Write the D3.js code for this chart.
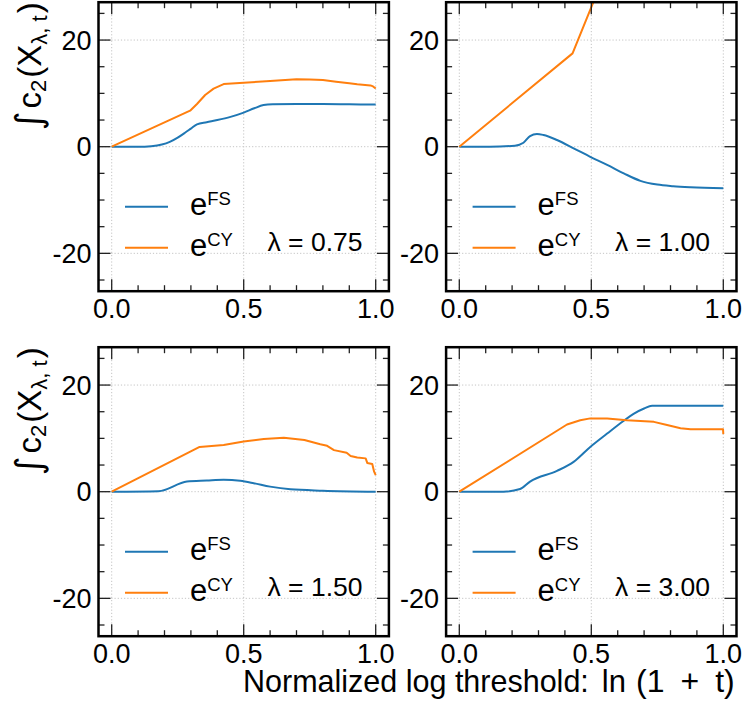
<!DOCTYPE html>
<html><head><meta charset="utf-8">
<script src="https://cdn.jsdelivr.net/npm/d3@7"></script>
<style>body{margin:0;background:#fff} text{font-family:"Liberation Sans",Arial,Helvetica,sans-serif;fill:#000}</style>
</head><body><svg id="c" width="743" height="711"></svg>
<script>
// ---------- data ----------
const lambdaLabels = ["0.75", "1.00", "1.50", "3.00"];
const seriesNames = ["FS", "CY"];
const seriesColors = ["#1f77b4", "#ff7f0e"];
const xMajorTicks = [0, 0.5, 1.0];
const xTickLabels = ["0.0", "0.5", "1.0"];
const yMajorTicks = [-20, 0, 20];
const yTickLabels = ["-20", "0", "20"];
const xLabel = "Normalized log threshold:";

const fs075 = [[0,0],[0.10,0],[0.15,0.1],[0.19,0.4],[0.22,0.9],[0.25,1.7],[0.28,2.7],[0.30,3.4],[0.323,4.2],[0.36,4.6],[0.40,5.0],[0.45,5.6],[0.50,6.4],[0.54,7.2],[0.575,7.8],[0.61,7.95],[0.70,8.0],[0.80,8.0],[0.90,7.95],[1.0,7.9]];
const cy075 = [[0,0],[0.297,6.75],[0.323,8.0],[0.354,9.7],[0.386,10.9],[0.424,11.75],[0.50,12.0],[0.60,12.3],[0.70,12.65],[0.75,12.6],[0.80,12.5],[0.85,12.2],[0.90,11.9],[0.93,11.7],[0.98,11.5],[0.99,11.3],[1.0,10.9]];
const fs100 = [[0,0],[0.116,0],[0.211,0.2],[0.243,0.75],[0.268,2.0],[0.294,2.4],[0.319,2.2],[0.37,1.25],[0.433,-0.3],[0.496,-1.9],[0.56,-3.4],[0.623,-5.0],[0.686,-6.4],[0.75,-7.1],[0.81,-7.4],[0.876,-7.6],[1.0,-7.8]];
const cy100 = [[0,0],[0.429,17.5],[0.511,27.5],[0.56,33.5]];
const fs150 = [[0,0],[0.177,0.1],[0.285,1.9],[0.36,2.1],[0.424,2.25],[0.487,2.05],[0.538,1.6],[0.60,0.95],[0.677,0.45],[0.80,0.2],[1.0,0]];
const cy150 = [[0,0],[0.333,8.4],[0.424,8.75],[0.50,9.4],[0.576,9.9],[0.652,10.1],[0.73,9.7],[0.79,8.9],[0.816,8.6],[0.842,7.8],[0.89,7.3],[0.905,6.7],[0.93,6.4],[0.962,6.25],[0.968,5.4],[0.987,5.2],[0.994,3.75],[1.0,3.1]];
const fs300 = [[0,0],[0.167,0],[0.23,0.5],[0.268,1.9],[0.37,3.9],[0.433,5.6],[0.496,8.4],[0.56,10.9],[0.623,13.3],[0.66,14.6],[0.70,15.6],[0.73,16.1],[0.81,16.1],[1.0,16.1]];
const cy300 = [[0,0],[0.408,12.6],[0.458,13.4],[0.496,13.75],[0.56,13.75],[0.635,13.4],[0.737,13.1],[0.787,12.5],[0.838,11.9],[0.876,11.7],[0.999,11.7],[1.0,10.8]];

const panelSeries = [[fs075, cy075], [fs100, cy100], [fs150, cy150], [fs300, cy300]];

// ---------- layout ----------
const svg = d3.select("#c");
const W = 290.4, H = 289;
const origins = [[98.5, 2.2], [446.1, 2.2], [98.5, 347.2], [446.1, 347.2]];
const FONT = 27;

panelSeries.forEach((series, i) => {
  const [ox, oy] = origins[i];
  const x = d3.scaleLinear().domain([-0.05, 1.05]).range([0, W]);
  const y = d3.scaleLinear().domain([-27.1, 27.1]).range([H, 0]);
  const g = svg.append("g").attr("transform", `translate(${ox},${oy})`);

  g.append("clipPath").attr("id", "clip" + i)
    .append("rect").attr("width", W).attr("height", H);

  // grid
  const grid = g.append("g").attr("stroke", "#c4c4c4").attr("stroke-width", 1).attr("stroke-dasharray", "1.2,2");
  xMajorTicks.forEach(t => grid.append("line").attr("x1", x(t)).attr("x2", x(t)).attr("y1", 0).attr("y2", H));
  yMajorTicks.forEach(t => grid.append("line").attr("y1", y(t)).attr("y2", y(t)).attr("x1", 0).attr("x2", W));

  // lines
  const lines = g.append("g").attr("clip-path", `url(#clip${i})`);
  series.forEach((d, k) => {
    const gen = d3.line().x(p => x(p[0])).y(p => y(p[1]))
      .curve(k === 0 ? d3.curveMonotoneX : d3.curveLinear);
    lines.append("path").attr("d", gen(d)).attr("fill", "none")
      .attr("stroke", seriesColors[k]).attr("stroke-width", 2)
      .attr("stroke-linejoin", "round");
  });

  // ticks (inward, all four sides)
  const ticks = g.append("g").attr("stroke", "#222").attr("stroke-width", 1.3);
  const xMinor = d3.range(0, 11).map(v => v / 10).filter(v => !xMajorTicks.some(m => Math.abs(m - v) < 1e-9));
  const yMinor = d3.range(-25, 26, 5).filter(v => !yMajorTicks.includes(v));
  const tick = (isX, v, len) => {
    if (isX) {
      ticks.append("line").attr("x1", x(v)).attr("x2", x(v)).attr("y1", H).attr("y2", H - len);
      ticks.append("line").attr("x1", x(v)).attr("x2", x(v)).attr("y1", 0).attr("y2", len);
    } else {
      ticks.append("line").attr("y1", y(v)).attr("y2", y(v)).attr("x1", 0).attr("x2", len);
      ticks.append("line").attr("y1", y(v)).attr("y2", y(v)).attr("x1", W).attr("x2", W - len);
    }
  };
  xMajorTicks.forEach(v => tick(true, v, 12));
  xMinor.forEach(v => tick(true, v, 6));
  yMajorTicks.forEach(v => tick(false, v, 12));
  yMinor.forEach(v => tick(false, v, 6));

  // frame
  g.append("rect").attr("width", W).attr("height", H).attr("fill", "none")
    .attr("stroke", "#000").attr("stroke-width", 2.5);

  // tick labels
  xMajorTicks.forEach((v, j) => g.append("text").attr("x", x(v)).attr("y", H + 27)
    .attr("text-anchor", "middle").attr("font-size", FONT).text(xTickLabels[j]));
  yMajorTicks.forEach((v, j) => g.append("text").attr("x", -7).attr("y", y(v))
    .attr("dy", "0.36em").attr("text-anchor", "end").attr("font-size", FONT).text(yTickLabels[j]));

  // legend
  seriesNames.forEach((nm, k) => {
    const ly = 204.5 + k * 41;
    g.append("line").attr("x1", 26.5).attr("x2", 69.5).attr("y1", ly).attr("y2", ly)
      .attr("stroke", seriesColors[k]).attr("stroke-width", 2);
    const t = g.append("text").attr("x", 91.5).attr("y", ly + 8.5).attr("font-size", 31);
    t.append("tspan").text("e");
    t.append("tspan").attr("font-size", 18.5).attr("dy", -10).text(nm);
  });
  g.append("text").attr("x", 264).attr("y", 249).attr("text-anchor", "end")
    .attr("font-size", 26.5).attr("xml:space", "preserve").text("\u03bb = " + lambdaLabels[i]);

  // y label on left column
  if (i % 2 === 0) {
    const yl = g.append("text")
      .attr("transform", `translate(${41 - ox},${128}) rotate(-90)`)
      .attr("font-size", 33);
    yl.append("tspan").attr("font-family", "DejaVu Sans").attr("font-style", "italic").attr("font-size", 36).text("\u222b");
    yl.append("tspan").attr("dx", 3).text("c");
    yl.append("tspan").attr("font-size", 22).attr("dy", 5).text("2");
    yl.append("tspan").attr("dx", 2).attr("dy", -5).text("(X");
    yl.append("tspan").attr("font-size", 22).attr("dy", 6).text("\u03bb, t");
    yl.append("tspan").attr("dx", 2).attr("dy", -6).text(")");
  }
});

// x label
const xl = svg.append("text").attr("x", 243).attr("y", 692).attr("font-size", 30.5);
xl.append("tspan").text(xLabel);
xl.append("tspan").attr("dx", 13).attr("font-size", 31).text("ln");
xl.append("tspan").attr("dx", 10).attr("font-size", 32).text("(1");
xl.append("tspan").attr("dx", 16).attr("font-size", 32).text("+");
xl.append("tspan").attr("dx", 16).attr("font-size", 32).text("t)");
</script></body></html>
